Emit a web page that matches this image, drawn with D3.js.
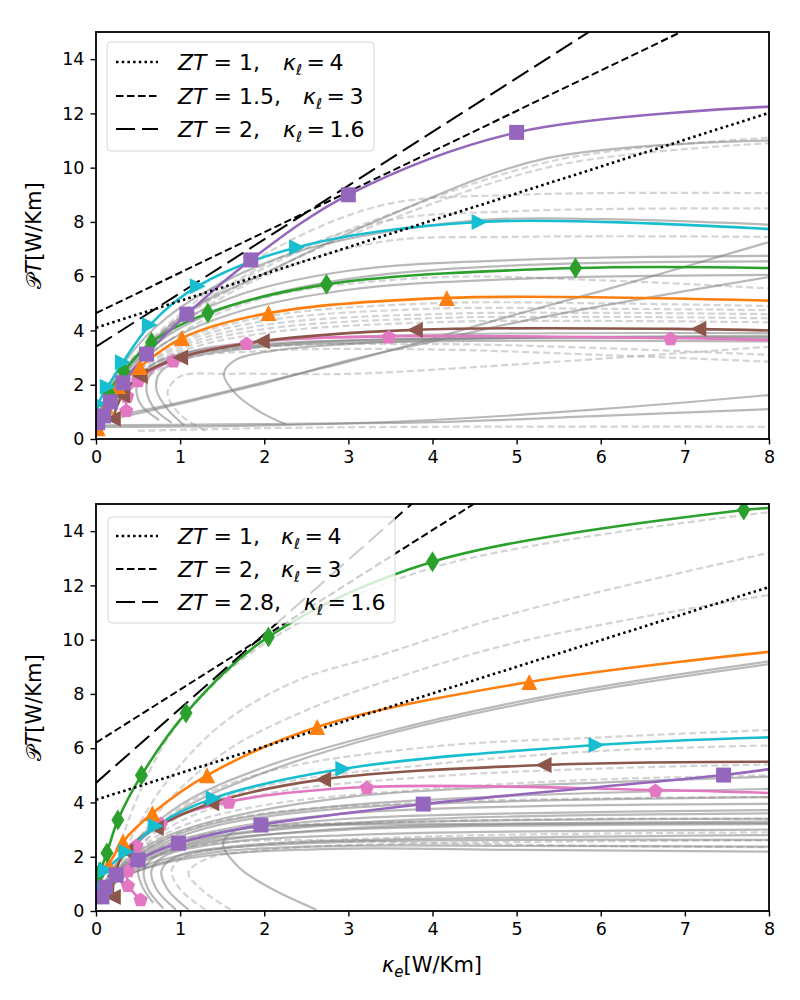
<!DOCTYPE html>
<html><head><meta charset="utf-8">
<script src="https://cdn.jsdelivr.net/npm/d3@7"></script>
<style>body{margin:0;background:#fff} text{font-family:"DejaVu Sans",sans-serif;fill:#000}</style>
</head><body>
<svg id="chart" width="800" height="1000"></svg>
<script>
// ---------------- data ----------------
const xTicks = [0,1,2,3,4,5,6,7,8];
const yTicks = [0,2,4,6,8,10,12,14];

const legendTopZT = ["1","1.5","2"];
const legendTopKappa = ["4","3","1.6"];
const legendBotZT = ["1","2","2.8"];
const legendBotKappa = ["4","3","1.6"];

const refStyles = ["dotted","dashed","longdash"];
const refTopIntercept = [4.1, 4.64, 3.4];
const refTopSlope = [0.99, 1.49, 1.98];
const refBotIntercept = [4.1, 6.2, 4.72];
const refBotSlope = [0.98, 1.96, 2.74];

// coloured series, top panel
const topPurple = [[0.02,0.6],[0.09,0.85],[0.17,1.37],[0.32,2.07],[0.6,3.13],[1.08,4.6],[1.84,6.6],[3.0,9.0],[5.0,11.3],[8,12.25]];
const topCyan   = [[0.01,0.5],[0.03,1.3],[0.14,1.93],[0.32,2.83],[0.64,4.2],[1.21,5.63],[2.39,7.07],[4.56,8.0],[8,7.74]];
const topGreen  = [[0.02,0.7],[0.15,1.7],[0.33,2.5],[0.66,3.57],[1.33,4.64],[2.74,5.7],[5.7,6.3],[8,6.3]];
const topOrange = [[0.02,0.4],[0.12,1.2],[0.26,1.95],[0.52,2.65],[1.02,3.72],[2.05,4.64],[4.17,5.2],[8,5.1]];
const topBrown  = [[0.2,0.75],[0.31,1.6],[0.52,2.32],[1.0,3.0],[1.97,3.6],[3.79,4.02],[7.16,4.05],[8,4.0]];
const topPink   = [[0.36,1.07],[0.37,1.6],[0.5,2.17],[0.92,2.9],[1.79,3.54],[3.48,3.78],[6.83,3.72],[8,3.64]];

// coloured series, bottom panel
const botGreen  = [[0.01,0.9],[0.05,1.45],[0.13,2.14],[0.26,3.35],[0.54,5.0],[1.07,7.3],[2.05,10.1],[4.0,12.87],[7.7,14.78],[8,14.85]];
const botOrange = [[0.02,0.9],[0.15,1.7],[0.32,2.55],[0.67,3.6],[1.32,5.0],[2.63,6.78],[5.15,8.44],[8,9.55]];
const botCyan   = [[0.02,0.9],[0.12,1.5],[0.36,2.18],[0.71,3.13],[1.4,4.16],[2.94,5.24],[5.95,6.12],[8,6.4]];
const botBrown  = [[0.2,0.52],[0.22,1.3],[0.35,2.2],[0.71,3.06],[1.37,3.97],[2.7,4.85],[5.32,5.38],[8,5.5]];
const botPink   = [[0.53,0.44],[0.38,0.96],[0.38,1.5],[0.48,2.43],[0.77,3.24],[1.58,4.03],[3.22,4.57],[6.65,4.46],[8,4.35]];
const botPurple = [[0.07,0.52],[0.11,0.88],[0.24,1.33],[0.5,1.88],[0.98,2.5],[1.96,3.17],[3.89,3.94],[7.46,5.01],[8,5.23]];

// grey background curves, top panel
const topGreySolid = [
  [[0.02,0.6],[0.2,1.9],[0.6,3.4],[1.2,4.9],[2,6.1],[3.38,8.1],[5.36,10.35],[8,11.0]],
  [[0.02,0.8],[0.25,2.4],[0.7,4.1],[1.4,5.6],[2.5,7.0],[4.5,8.05],[6,8.1],[8,7.9]],
  [[0.05,0.9],[0.3,2.3],[0.8,3.9],[1.6,5.2],[3,6.2],[5,6.6],[8,6.75]],
  [[0.05,0.8],[0.3,2.2],[0.8,3.7],[1.6,4.9],[3,5.9],[5,6.4],[8,6.55]],
  [[0.05,0.8],[0.3,2.1],[0.8,3.5],[1.6,4.6],[3,5.5],[5,5.9],[8,6.05]],
  [[0.3,0.9],[1,1.35],[2,2.1],[3,2.85],[4,3.7],[5,4.6],[6,5.45],[7,6.35],[8,7.26]],
  [[0.3,0.8],[1,1.3],[2,2.05],[3,2.9],[4,3.6],[5,4.3],[6,4.9],[7,5.45],[8,5.97]],
  [[0.05,0.45],[2,0.5],[4,0.7],[6,1.1],[8,1.62]],
  [[0.05,0.5],[2,0.55],[4,0.62],[6,0.85],[8,1.1]],
  [[2.25,0.55],[1.95,1.0],[1.65,1.7],[1.52,2.4],[1.65,2.9],[2.1,3.25],[3,3.5],[4.5,3.7],[8,3.8]],
  [[1.05,0.5],[0.85,1.1],[0.72,1.8],[0.75,2.4],[1.0,2.9],[2,3.4],[4,3.6],[8,3.6]],
  [[0.9,0.6],[0.7,1.1],[0.6,1.8],[0.65,2.4],[0.9,2.95],[2,3.45],[4,3.7],[8,3.7]],
  [[0.75,0.7],[0.55,1.2],[0.48,1.8],[0.55,2.4],[0.8,2.95],[2,3.5],[8,3.75]],
  [[0.1,0.7],[0.4,2.0],[1,3.1],[2,3.6],[4,3.85],[8,3.9]]
];
const topGreyDashed = [
  [[0.05,0.8],[0.3,2.4],[1,4.5],[2,6.3],[3.38,8.15],[5.5,10.3],[8,11.1]],
  [[0.05,0.8],[0.3,2.3],[1,4.4],[2,6.1],[3.38,7.95],[5.5,10.1],[8,10.9]],
  [[0.05,0.9],[0.3,2.5],[1,4.6],[2,6.8],[3.38,8.6],[5,9.0],[8,9.06]],
  [[0.05,0.9],[0.3,2.4],[1,4.4],[2,6.4],[3.38,8.0],[5,8.4],[8,8.5]],
  [[0.05,0.9],[0.3,2.3],[1,4.2],[2,6.0],[3.38,7.26],[5,7.45],[8,7.45]],
  [[0.05,0.8],[0.3,2.1],[1,3.9],[2,5.2],[3.98,5.95],[6,5.85],[8,5.55]],
  [[0.05,0.8],[0.3,2.1],[1,3.6],[2,4.5],[3.98,5.0],[6,5.0],[8,4.9]],
  [[0.05,0.8],[0.3,2.0],[1,3.5],[2,4.35],[3.98,4.8],[6,4.8],[8,4.75]],
  [[0.05,0.8],[0.3,2.0],[1,3.4],[2,4.2],[3.98,4.6],[6,4.65],[8,4.6]],
  [[0.05,0.7],[0.3,1.9],[1,3.3],[2,4.05],[3.98,4.45],[6,4.5],[8,4.45]],
  [[0.05,0.7],[0.3,1.9],[1,3.2],[2,3.9],[3.98,4.3],[6,4.35],[8,4.3]],
  [[0.05,0.7],[0.3,1.8],[1,3.0],[2,3.4],[3.98,3.5],[6,3.35],[8,3.1]],
  [[0.1,0.7],[0.4,1.8],[1,2.9],[2,3.25],[3.98,3.3],[6,3.1],[8,2.85]],
  [[1.3,0.3],[1.0,0.9],[0.85,1.7],[1.0,2.3],[1.6,2.4],[3,2.4],[5,2.75],[8,3.4]],
  [[0.5,0.3],[2,0.4],[4,0.45],[8,0.45]]
];

// grey background curves, bottom panel
const botGreySolid = [
  [[0.05,0.7],[0.3,2.0],[1,3.9],[2,5.3],[3.38,6.55],[5.5,8.0],[8,9.2]],
  [[0.05,0.7],[0.3,1.9],[1,3.7],[2,5.1],[3.38,6.45],[5.5,7.9],[8,9.1]],
  [[0.05,0.6],[0.3,1.7],[0.8,2.7],[1.5,3.4],[3,4.2],[5,4.6],[8,4.95]],
  [[0.05,0.6],[0.3,1.6],[0.8,2.6],[1.5,3.3],[3,3.9],[5,4.25],[8,4.5]],
  [[0.05,0.6],[0.3,1.6],[0.8,2.5],[1.5,3.2],[3,3.8],[5,4.05],[8,4.2]],
  [[0.05,0.6],[0.3,1.5],[0.8,2.4],[1.5,3.0],[3,3.6],[5,3.85],[8,3.95]],
  [[0.05,0.6],[0.3,1.5],[0.8,2.3],[1.5,2.9],[3,3.4],[5,3.6],[8,3.72]],
  [[0.05,0.6],[0.3,1.4],[0.8,2.2],[1.5,2.75],[3,3.2],[5,3.35],[8,3.4]],
  [[0.05,0.6],[0.3,1.4],[0.8,2.1],[1.5,2.6],[3,3.05],[5,3.2],[8,3.24]],
  [[0.05,0.5],[0.3,1.3],[0.8,1.9],[1.5,2.3],[3,2.55],[5,2.62],[8,2.62]],
  [[0.05,0.5],[0.3,1.2],[0.8,1.8],[1.5,2.2],[3,2.4],[5,2.4],[8,2.37]],
  [[0.05,0.5],[0.3,1.2],[0.8,1.75],[1.5,2.1],[3,2.3],[5,2.25],[8,2.19]],
  [[2.62,0.05],[2.1,0.8],[1.7,1.6],[1.51,2.5],[1.65,2.95],[2.3,3.15],[4.04,3.2],[8,3.3]],
  [[0.68,0.3],[0.55,0.9],[0.5,1.5],[0.6,2.0],[1,2.5],[2,3.0],[4,3.4],[8,3.6]],
  [[0.8,0.1],[0.62,0.8],[0.57,1.5],[0.7,2.0],[1.2,2.5],[3,3.0],[8,3.2]],
  [[0.95,0.05],[0.72,0.8],[0.66,1.5],[0.8,2.0],[1.5,2.5],[3,2.8],[8,3.0]],
  [[1.1,0.05],[0.85,0.8],[0.78,1.5],[0.95,2.0],[1.7,2.4],[3,2.6],[8,2.8]]
];
const botGreyDashed = [
  [[0.3,2.6],[0.55,4.6],[1.0,7.0],[2.0,9.85],[4,12.65],[8,14.7]],
  [[0.4,2.6],[0.8,4.6],[1.5,6.9],[2.4,8.5],[3.38,9.43],[5,11.0],[8,13.2]],
  [[0.45,2.4],[0.9,4.2],[1.6,6.0],[2.5,7.4],[3.38,8.4],[5,9.9],[8,11.65]],
  [[0.5,2.3],[1.0,3.8],[2.0,5.1],[3.97,6.05],[6,6.4],[8,6.67]],
  [[0.4,2.1],[1.0,3.5],[2.0,4.6],[3.97,5.4],[6,5.9],[8,6.1]],
  [[0.4,2.0],[1.0,3.3],[2.0,4.3],[3.97,4.95],[6,5.25],[8,5.4]],
  [[0.3,1.8],[1.0,3.1],[2.0,3.9],[3.97,4.5],[6,4.85],[8,5.0]],
  [[0.3,1.7],[1.0,2.9],[2.0,3.6],[3.97,4.0],[6,4.15],[8,4.2]],
  [[0.3,1.6],[1.0,2.6],[2.0,3.1],[3.97,3.3],[6,3.4],[8,3.4]],
  [[0.3,1.5],[1.0,2.3],[2.0,2.6],[3.97,2.5],[6,2.4],[8,2.35]],
  [[1.3,0.05],[1.0,0.8],[0.9,1.5],[1.05,2.0],[1.8,2.4],[4,2.75],[8,2.9]],
  [[1.6,0.05],[1.25,0.8],[1.1,1.4],[1.3,1.9],[2.2,2.3],[4,2.5],[8,2.6]]
];

// ---------------- drawing ----------------
const svg = d3.select("#chart");
const x = d3.scaleLinear().domain([0,8]).range([96,769]);
const colors = {purple:"#9467bd", cyan:"#17becf", green:"#2ca02c", orange:"#ff7f0e", brown:"#8c564b", pink:"#e377c2"};

function markerPath(t){
  if(t==="square") return "M-7.5,-7.5H7.5V7.5H-7.5Z";
  if(t==="up") return "M0,-8L8,8L-8,8Z";
  if(t==="right") return "M8,0L-8,-8L-8,8Z";
  if(t==="left") return "M-8,0L8,-8L8,8Z";
  if(t==="thin_diamond") return "M0,-10.5L6.5,0L0,10.5L-6.5,0Z";
  if(t==="pentagon"){
    const r=7.5; let p=[];
    for(let i=0;i<5;i++){const a=-Math.PI/2+i*2*Math.PI/5; p.push([r*Math.cos(a), r*Math.sin(a)+1]);}
    return "M"+p.map(q=>q.join(",")).join("L")+"Z";
  }
}

const dashes = {dotted:"2.5,3.2", dashed:"7.5,3.5", longdash:"19,7"};
const widths = {dotted:2.6, dashed:2, longdash:2};

function drawPanel(cfg){
  const y = d3.scaleLinear().domain([0,15]).range([cfg.bottom, cfg.top]);
  const g = svg.append("g");
  const clipId = "clip"+cfg.id;
  svg.append("clipPath").attr("id",clipId).append("rect")
    .attr("x",x(0)).attr("y",y(15)).attr("width",x(8)-x(0)).attr("height",y(0)-y(15));
  const plot = g.append("g").attr("clip-path",`url(#${clipId})`);
  const line = d3.line().x(d=>x(d[0])).y(d=>y(d[1])).curve(d3.curveCatmullRom.alpha(0.5));

  plot.selectAll(".gd").data(cfg.greyDashed).join("path")
    .attr("d",line).attr("fill","none").attr("stroke","#b0b0b0").attr("stroke-opacity",0.55)
    .attr("stroke-width",2.2).attr("stroke-dasharray","7,3.5");
  plot.selectAll(".gs").data(cfg.greySolid).join("path")
    .attr("d",line).attr("fill","none").attr("stroke","#808080").attr("stroke-opacity",0.55)
    .attr("stroke-width",2.2);

  cfg.series.forEach(s=>{
    plot.append("path").datum(s.data).attr("d",line).attr("fill","none")
      .attr("stroke",colors[s.color]).attr("stroke-width",2.6);
  });

  refStyles.forEach((st,i)=>{
    const b=cfg.intercept[i], m=cfg.slope[i];
    plot.append("path").datum([[0,b],[8,b+8*m]]).attr("d",d3.line().x(d=>x(d[0])).y(d=>y(d[1])))
      .attr("stroke","#000").attr("stroke-width",widths[st]).attr("fill","none")
      .attr("stroke-dasharray",dashes[st]);
  });

  cfg.series.forEach(s=>{
    plot.selectAll(null).data(s.data.slice(0,-1)).join("path")
      .attr("transform",d=>`translate(${x(d[0])},${y(d[1])})`)
      .attr("d",markerPath(s.marker)).attr("fill",colors[s.color]);
  });

  // frame
  g.append("rect").attr("x",x(0)).attr("y",y(15)).attr("width",x(8)-x(0)).attr("height",y(0)-y(15))
    .attr("fill","none").attr("stroke","#000").attr("stroke-width",1.8);

  // axes
  const xa = g.append("g").attr("transform",`translate(0,${y(0)})`)
    .call(d3.axisBottom(x).tickValues(xTicks).tickSize(5.5).tickPadding(6).tickFormat(d3.format("d")));
  const ya = g.append("g").attr("transform",`translate(${x(0)},0)`)
    .call(d3.axisLeft(y).tickValues(yTicks).tickSize(5.5).tickPadding(6).tickFormat(d3.format("d")));
  [xa,ya].forEach(a=>{
    a.select(".domain").remove();
    a.selectAll("line").attr("stroke","#000").attr("stroke-width",1.4);
    a.selectAll("text").style("font-size","17.5px").style("font-family","DejaVu Sans");
  });

  // y label
  const yl = g.append("text").attr("transform",`translate(41,${(y(0)+y(15))/2}) rotate(-90)`)
    .attr("text-anchor","middle").style("font-size","21px");
  yl.append("tspan").text("𝒫").style("font-family","DejaVu Sans, DejaVu Serif");
  yl.append("tspan").text("T").style("font-style","italic");
  yl.append("tspan").text("[W/Km]");

  // legend
  const L = cfg.legend;
  g.append("rect").attr("x",L.x0).attr("y",L.y0).attr("width",L.x1-L.x0).attr("height",L.y1-L.y0)
    .attr("rx",4).attr("fill","#fff").attr("fill-opacity",0.8).attr("stroke","#d6d6d6").attr("stroke-width",1);
  refStyles.forEach((st,i)=>{
    const cy = L.rows[i];
    g.append("line").attr("x1",116).attr("x2",158).attr("y1",cy).attr("y2",cy)
      .attr("stroke","#000").attr("stroke-width",widths[st]).attr("stroke-dasharray",dashes[st]);
    const t = g.append("text").attr("x",178).attr("y",cy+8).style("font-size","22px");
    t.append("tspan").text("ZT").style("font-style","italic");
    t.append("tspan").text(" = "+L.zt[i]+",");
    t.append("tspan").attr("x",L.kx[i]).text("κ").style("font-style","italic");
    t.append("tspan").attr("dy",5).text("ℓ").style("font-style","italic").style("font-size","15px");
    t.append("tspan").attr("dy",-5).text("\u2009=\u2009"+L.kappa[i]);
  });
}

drawPanel({id:1, top:32, bottom:439,
  greySolid:topGreySolid, greyDashed:topGreyDashed,
  intercept:refTopIntercept, slope:refTopSlope,
  series:[
    {data:topPink,color:"pink",marker:"pentagon"},
    {data:topBrown,color:"brown",marker:"left"},
    {data:topOrange,color:"orange",marker:"up"},
    {data:topGreen,color:"green",marker:"thin_diamond"},
    {data:topCyan,color:"cyan",marker:"right"},
    {data:topPurple,color:"purple",marker:"square"}],
  legend:{x0:107,y0:42,x1:374,y1:151,rows:[62,96,129],kx:[283,303,283],zt:legendTopZT,kappa:legendTopKappa}
});
drawPanel({id:2, top:504, bottom:911,
  greySolid:botGreySolid, greyDashed:botGreyDashed,
  intercept:refBotIntercept, slope:refBotSlope,
  series:[
    {data:botPink,color:"pink",marker:"pentagon"},
    {data:botBrown,color:"brown",marker:"left"},
    {data:botOrange,color:"orange",marker:"up"},
    {data:botGreen,color:"green",marker:"thin_diamond"},
    {data:botCyan,color:"cyan",marker:"right"},
    {data:botPurple,color:"purple",marker:"square"}],
  legend:{x0:108,y0:517,x1:395,y1:623,rows:[536,569,602],kx:[281,281,304],zt:legendBotZT,kappa:legendBotKappa}
});

// x label
const xl = svg.append("text").attr("x",432).attr("y",972).attr("text-anchor","middle").style("font-size","21px");
xl.append("tspan").text("κ").style("font-style","italic");
xl.append("tspan").attr("dy",5).text("e").style("font-style","italic").style("font-size","15px");
xl.append("tspan").attr("dy",-5).text("[W/Km]");
</script>
</body></html>
